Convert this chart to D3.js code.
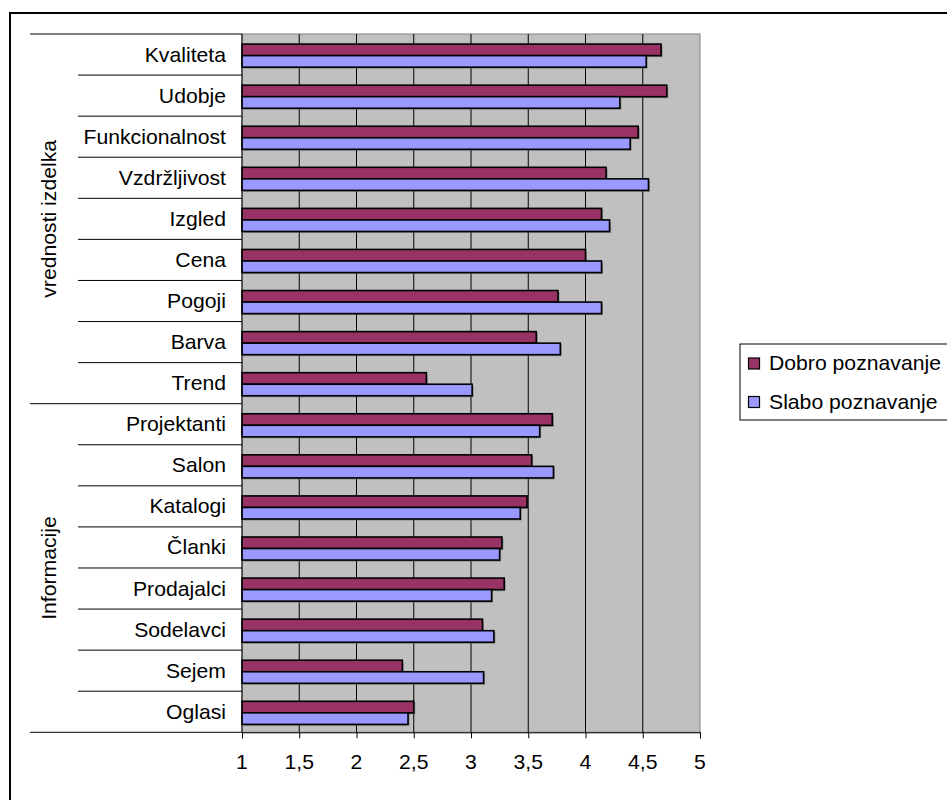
<!DOCTYPE html>
<html>
<head>
<meta charset="utf-8">
<script src="https://cdn.jsdelivr.net/npm/d3@7"></script>
<style>
  html, body { margin: 0; padding: 0; background: #fff; }
  svg { display: block; font-family: "Liberation Sans", Arial, sans-serif; }
</style>
</head>
<body>
<svg id="chart" width="947" height="800"></svg>
<script>
// Category labels, top to bottom
const categories = ["Kvaliteta", "Udobje", "Funkcionalnost", "Vzdržljivost", "Izgled", "Cena",
  "Pogoji", "Barva", "Trend", "Projektanti", "Salon", "Katalogi", "Članki", "Prodajalci",
  "Sodelavci", "Sejem", "Oglasi"];
// Outer category groups and how many categories each spans
const groupNames = ["vrednosti izdelka", "Informacije"];
const groupSizes = [9, 8];
// Series
const seriesNames = ["Dobro poznavanje", "Slabo poznavanje"];
const dobro = [4.66, 4.71, 4.46, 4.18, 4.14, 4.00, 3.76, 3.57, 2.61, 3.71, 3.53, 3.49, 3.27, 3.29, 3.10, 2.40, 2.50];
const slabo = [4.53, 4.30, 4.39, 4.55, 4.21, 4.14, 4.14, 3.78, 3.01, 3.60, 3.72, 3.43, 3.25, 3.18, 3.20, 3.11, 2.45];
const tickValues = [1, 1.5, 2, 2.5, 3, 3.5, 4, 4.5, 5];

const seriesColors = ["#993366", "#9999FF"];
const FONT = 20, SX = 1.06; // label font size and horizontal stretch

const svg = d3.select("#chart");
const plot = { left: 242, right: 700, top: 34, bottom: 732.3 };

const x = d3.scaleLinear().domain([1, 5]).range([plot.left, plot.right]);
const y = d3.scaleBand().domain(categories).range([plot.top, plot.bottom]).paddingInner(0).paddingOuter(0);
const ySub = d3.scaleBand().domain(seriesNames).range([0, y.bandwidth()]).paddingInner(0).paddingOuter(0.78).align(0.56);

const locale = d3.formatLocale({ decimal: ",", thousands: ".", grouping: [3], currency: ["", ""] });
const fmt = v => locale.format("~g")(v);

// Outer chart border (runs off the right and bottom edges)
svg.append("rect").attr("x", 10).attr("y", 13).attr("width", 1000).attr("height", 1000)
  .attr("fill", "none").attr("stroke", "#000").attr("stroke-width", 2);

// Plot area background
svg.append("rect").attr("x", plot.left).attr("y", plot.top)
  .attr("width", plot.right - plot.left).attr("height", plot.bottom - plot.top)
  .attr("fill", "#C0C0C0").attr("stroke", "#808080").attr("stroke-width", 1);

// Vertical gridlines
svg.append("g").selectAll("line").data(tickValues.slice(1, -1)).join("line")
  .attr("x1", d => x(d)).attr("x2", d => x(d))
  .attr("y1", plot.top).attr("y2", plot.bottom)
  .attr("stroke", "#000").attr("stroke-width", 1);

// Bars with a soft offset shadow
const rows = categories.map((c, i) => ({ cat: c, vals: [dobro[i], slabo[i]] }));
const barG = svg.append("g");
rows.forEach(r => {
  r.vals.forEach((v, k) => {
    const by = y(r.cat) + ySub(seriesNames[k]);
    const bh = ySub.bandwidth();
    barG.append("rect")
      .attr("x", x(1) + 1.5).attr("y", by + 1.5)
      .attr("width", x(v) - x(1)).attr("height", bh)
      .attr("fill", "#555").attr("opacity", 0.55);
    barG.append("rect")
      .attr("x", x(1)).attr("y", by)
      .attr("width", x(v) - x(1)).attr("height", bh)
      .attr("fill", seriesColors[k]).attr("stroke", "#000").attr("stroke-width", 1.6);
  });
});

// Bottom value axis
const xAxis = d3.axisBottom(x).tickValues(tickValues).tickSize(6).tickPadding(0).tickFormat(() => "");
const xg = svg.append("g").attr("transform", `translate(0,${plot.bottom})`).call(xAxis);
xg.select(".domain").attr("stroke", "#000");
xg.selectAll(".tick line").attr("stroke", "#000");
svg.append("g").selectAll("text").data(tickValues).join("text")
  .attr("transform", d => `translate(${x(d)},768.5) scale(${SX},1)`)
  .attr("text-anchor", "middle").attr("font-size", FONT).attr("fill", "#000")
  .text(d => fmt(d));

// Left axis line
svg.append("line").attr("x1", plot.left).attr("x2", plot.left)
  .attr("y1", plot.top).attr("y2", plot.bottom).attr("stroke", "#000");

// Category separators; group boundaries reach further left
const groupStarts = [];
let acc = 0;
groupSizes.forEach(s => { groupStarts.push(acc); acc += s; });
const boundaries = d3.range(categories.length + 1);
svg.append("g").selectAll("line").data(boundaries).join("line")
  .attr("x1", i => (groupStarts.includes(i) || i === categories.length) ? 30 : 78)
  .attr("x2", plot.left)
  .attr("y1", i => i < categories.length ? y(categories[i]) : plot.bottom)
  .attr("y2", i => i < categories.length ? y(categories[i]) : plot.bottom)
  .attr("stroke", "#000").attr("stroke-width", 1);

// Category labels
svg.append("g").selectAll("text").data(categories).join("text")
  .attr("transform", d => `translate(226,${y(d) + y.bandwidth() / 2 + 7}) scale(${SX},1)`)
  .attr("text-anchor", "end").attr("font-size", FONT).attr("fill", "#000")
  .text(d => d);

// Group labels, rotated
svg.append("g").selectAll("text").data(groupNames).join("text")
  .attr("transform", (d, i) => {
    const y0 = y(categories[groupStarts[i]]);
    const last = groupStarts[i] + groupSizes[i] - 1;
    const y1 = y(categories[last]) + y.bandwidth();
    return `translate(56,${(y0 + y1) / 2}) rotate(-90) scale(${SX},1)`;
  })
  .attr("text-anchor", "middle").attr("font-size", FONT).attr("fill", "#000")
  .text(d => d);

// Legend
const legend = svg.append("g");
legend.append("rect").attr("x", 740).attr("y", 344).attr("width", 400).attr("height", 76)
  .attr("fill", "#fff").attr("stroke", "#000").attr("stroke-width", 1);
seriesNames.forEach((s, k) => {
  const ly = 358 + k * 38.5;
  legend.append("rect").attr("x", 748.5).attr("y", ly).attr("width", 11).attr("height", 11)
    .attr("fill", seriesColors[k]).attr("stroke", "#000").attr("stroke-width", 1.2);
  legend.append("text")
    .attr("transform", `translate(769,${ly + 12}) scale(${SX},1)`)
    .attr("font-size", FONT).attr("fill", "#000").text(s);
});
</script>
</body>
</html>
